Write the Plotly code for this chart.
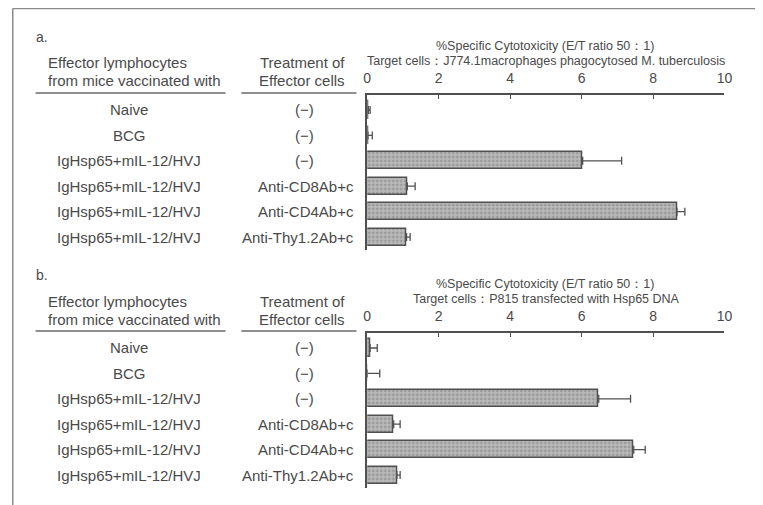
import plotly.graph_objects as go

# page body has an 8px margin, so the figure is drawn 8px in from the window edge
OFF = 8
W, H = 763 - OFF, 505 - OFF

# ---------------- data ----------------
vaccinated = ["Naive", "BCG", "IgHsp65+mIL-12/HVJ", "IgHsp65+mIL-12/HVJ",
              "IgHsp65+mIL-12/HVJ", "IgHsp65+mIL-12/HVJ"]
treatment = ["(−)", "(−)", "(−)", "Anti-CD8Ab+c", "Anti-CD4Ab+c", "Anti-Thy1.2Ab+c"]

a_values = [0.03, 0.02, 6.03, 1.12, 8.67, 1.10]
a_errors = [0.05, 0.12, 1.09, 0.22, 0.22, 0.10]

b_values = [0.08, 0.0, 6.48, 0.74, 7.46, 0.83]
b_errors = [0.20, 0.35, 0.89, 0.18, 0.32, 0.09]

x_ticks = [0, 2, 4, 6, 8, 10]

title_main = "%Specific Cytotoxicity (E/T ratio 50：1)"
a_target = "Target cells：J774.1macrophages phagocytosed M. tuberculosis"
b_target = "Target cells：P815 transfected with Hsp65 DNA"
hdr_col1 = ["Effector lymphocytes", "from mice vaccinated with"]
hdr_col2 = ["Treatment of", "Effector cells"]

# ---------------- styling ----------------
TXT = "#4a4a4a"
LINE = "#505050"
FONT = "Liberation Sans, Arial, sans-serif"


def px(x):
    return (x - OFF) / W


def py(y):
    return 1 - (y - OFF) / H


fig = go.Figure()
rows = list(range(len(vaccinated)))

for vals, errs, ya in [(a_values, a_errors, "y"), (b_values, b_errors, "y2")]:
    fig.add_trace(go.Bar(
        x=vals, y=rows, orientation="h", width=0.67,
        xaxis="x" if ya == "y" else "x2", yaxis=ya,
        marker=dict(color="#b4b4b4",
                    line=dict(color=LINE, width=1.5),
                    pattern=dict(shape=".", fgcolor="#7c7c7c", bgcolor="#bababa",
                                 size=4, solidity=0.4)),
        error_x=dict(type="data", symmetric=False, array=errs,
                     arrayminus=[0] * len(errs), visible=True, color=LINE,
                     thickness=1.3, width=4),
        showlegend=False, hoverinfo="x",
    ))

shift = 238
panels = [
    dict(top=95, x="xaxis", y="yaxis", yref="y", label="a.", target=a_target),
    dict(top=95 + shift, x="xaxis2", y="yaxis2", yref="y2", label="b.", target=b_target),
]

layout = dict(
    width=W, height=H, margin=dict(l=0, r=0, t=0, b=0),
    paper_bgcolor="white", plot_bgcolor="white",
    font=dict(family=FONT, color=TXT),
    bargap=0,
)

annotations = []
shapes = []

for p in panels:
    top = p["top"]
    bottom = top + 155
    layout[p["x"]] = dict(
        domain=[px(369), px(732)], range=[0, 10], side="top",
        anchor=p["y"].replace("axis", ""),
        tickvals=x_ticks, ticks="inside", ticklen=4, tickcolor=LINE, tickwidth=1.3,
        ticklabelstandoff=5,
        showline=True, linecolor=LINE, linewidth=1.5, showgrid=False, zeroline=False,
        tickfont=dict(size=14, color=TXT), fixedrange=True,
    )
    layout[p["y"]] = dict(
        domain=[py(bottom), py(top)], range=[5.51, -0.59],
        anchor=p["x"].replace("axis", ""),
        showline=True, linecolor=LINE, linewidth=1.5, showgrid=False, zeroline=False,
        showticklabels=False, ticks="", fixedrange=True,
    )

    # panel label
    annotations.append(dict(text=p["label"], x=px(30), y=py(top - 58), xref="paper", yref="paper",
                            xanchor="left", yanchor="middle", showarrow=False,
                            font=dict(size=14, color=TXT)))
    # titles
    annotations.append(dict(text=title_main, x=px(550), y=py(top - 49), xref="paper", yref="paper",
                            xanchor="center", yanchor="middle", showarrow=False,
                            font=dict(size=12.5, color=TXT)))
    annotations.append(dict(text=p["target"], x=px(551), y=py(top - 34), xref="paper", yref="paper",
                            xanchor="center", yanchor="middle", showarrow=False,
                            font=dict(size=12.5, color=TXT)))
    # headers
    for k, (t1, t2) in enumerate(zip(hdr_col1, hdr_col2)):
        yy = py(top - 32 + 18 * k)
        annotations.append(dict(text=t1, x=px(43), y=yy, xref="paper", yref="paper",
                                xanchor="left", yanchor="middle", showarrow=False,
                                font=dict(size=15, color=TXT)))
        annotations.append(dict(text=t2, x=px(348), y=yy, xref="paper", yref="paper",
                                xanchor="right", yanchor="middle", showarrow=False,
                                font=dict(size=15, color=TXT)))
    # underlines
    for x0, x1 in [(32, 225), (241, 358)]:
        shapes.append(dict(type="line", xref="paper", yref="paper",
                           x0=px(x0), x1=px(x1), y0=py(top - 2), y1=py(top - 2),
                           line=dict(color="#6a6a6a", width=1.5)))
    # row labels
    for i, (v, t) in enumerate(zip(vaccinated, treatment)):
        annotations.append(dict(text=v, x=px(127), y=i, xref="paper", yref=p["yref"],
                                xanchor="center", yanchor="middle", showarrow=False,
                                font=dict(size=15, color=TXT)))
        if t == "(−)":
            annotations.append(dict(text=t, x=px(305), y=i, xref="paper", yref=p["yref"],
                                    xanchor="center", yanchor="middle", showarrow=False,
                                    font=dict(size=15, color=TXT)))
        else:
            annotations.append(dict(text=t, x=px(358), y=i, xref="paper", yref=p["yref"],
                                    xanchor="right", yanchor="middle", showarrow=False,
                                    font=dict(size=15, color=TXT)))

# frame (left and top edges of the scanned page border)
shapes.append(dict(type="line", xref="paper", yref="paper", x0=0.001, x1=0.001,
                   y0=0.999, y1=0, line=dict(color="#8a8a8a", width=1.5)))
shapes.append(dict(type="line", xref="paper", yref="paper", x0=0.001, x1=1,
                   y0=0.999, y1=0.999, line=dict(color="#8a8a8a", width=1.5)))

layout["annotations"] = annotations
layout["shapes"] = shapes
fig.update_layout(**layout)

fig.write_html("out.html")
